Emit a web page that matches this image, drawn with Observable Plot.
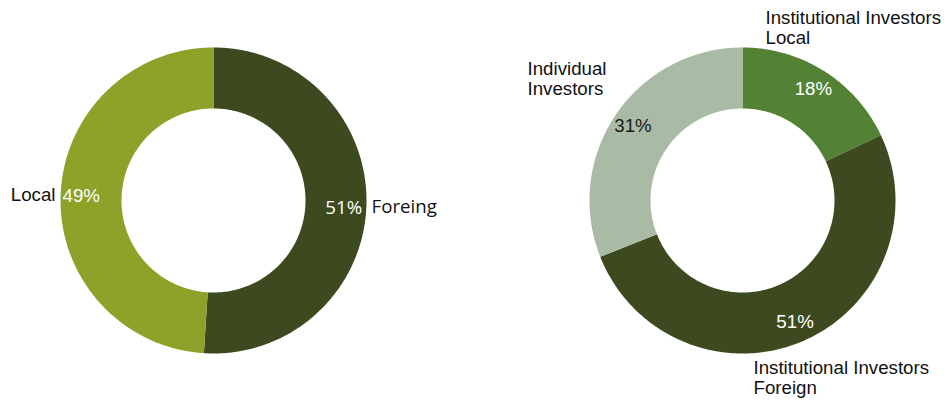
<!DOCTYPE html>
<html><head><meta charset="utf-8">
<script src="https://cdn.jsdelivr.net/npm/d3@7"></script>
<script src="https://cdn.jsdelivr.net/npm/@observablehq/plot@0.6"></script>
<style>body{margin:0;background:#fff;} #chart svg{display:block;}</style>
</head><body><div id="chart"></div>
<script>
// ---- data ----
const leftCategories = ["Foreing", "Local"];
const leftValues = [51, 49];
const leftColors = ["#3d4a1f", "#8ea128"];
const leftPctColors = ["#ffffff", "#ffffff"];

const rightCategories = ["Institutional Investors\nLocal", "Institutional Investors\nForeign", "Individual\nInvestors"];
const rightValues = [18, 51, 31];
const rightColors = ["#548235", "#3d4a1f", "#a9baa5"];
const rightPctColors = ["#ffffff", "#ffffff", "#1a1a1a"];

// ---- layout (pixels) ----
const W = 949, H = 403;
const PX = 153;               // outer radius in px = 1 data unit
const innerR = 92 / PX;
const labelR = 0.865;
const leftCenter = {x: 0, y: 0};
const rightCenter = {x: 529 / PX, y: 0};
const fs = 18.7;

// label offsets in screen px (dy positive = downward), relative to donut centre
const leftNameLayout = [{dx: 158, dy: 7, anchor: "start"}, {dx: -158, dy: -5, anchor: "end"}];
const leftPctAdjust = [{dx: -2, dy: 3}, {dx: 0, dy: 0}];
const rightNameLayout = [
  {dx: 23, dy: -173, anchor: "start"},
  {dx: 11, dy: 177, anchor: "start"},
  {dx: -215, dy: -122, anchor: "start"}
];

function buildDonut(cats, vals, colors, center, chartKey) {
  const arcs = d3.pie().sort(null).value(d => d)(vals);
  const pts = [];
  arcs.forEach((a, i) => {
    const n = Math.max(8, Math.ceil((a.endAngle - a.startAngle) * 60));
    for (let k = 0; k <= n; k++) {
      const t = a.startAngle + (a.endAngle - a.startAngle) * k / n;
      pts.push({key: chartKey + i, color: colors[i], x: center.x + Math.sin(t), y: center.y + Math.cos(t)});
    }
    for (let k = n; k >= 0; k--) {
      const t = a.startAngle + (a.endAngle - a.startAngle) * k / n;
      pts.push({key: chartKey + i, color: colors[i], x: center.x + innerR * Math.sin(t), y: center.y + innerR * Math.cos(t)});
    }
  });
  return {arcs, pts};
}

const L = buildDonut(leftCategories, leftValues, leftColors, leftCenter, "L");
const R = buildDonut(rightCategories, rightValues, rightColors, rightCenter, "R");

function pctLabels(arcs, vals, center, pctColors, adjust) {
  const total = d3.sum(vals);
  return arcs.map((a, i) => {
    const m = (a.startAngle + a.endAngle) / 2;
    const adj = adjust ? adjust[i] : {dx: 0, dy: 0};
    return {
      x: center.x + labelR * Math.sin(m) + adj.dx / PX,
      y: center.y + labelR * Math.cos(m) - adj.dy / PX,
      text: Math.round(vals[i] / total * 100) + "%",
      fill: pctColors[i]
    };
  });
}
const leftPct = pctLabels(L.arcs, leftValues, leftCenter, leftPctColors, leftPctAdjust);
const rightPct = pctLabels(R.arcs, rightValues, rightCenter, rightPctColors, null);

const leftNames = leftCategories.map((c, i) => ({
  x: leftCenter.x + leftNameLayout[i].dx / PX, y: leftCenter.y - leftNameLayout[i].dy / PX,
  text: c
}));
const rightNames = rightCategories.map((c, i) => ({
  x: rightCenter.x + rightNameLayout[i].dx / PX, y: rightCenter.y - rightNameLayout[i].dy / PX,
  text: c
}));

const arial = "Arial, 'Liberation Sans', sans-serif";
const openSans = "'Open Sans', sans-serif";

const chart = Plot.plot({
  width: W, height: H,
  margin: 0,
  x: {domain: [-213 / PX, (W - 213) / PX], axis: null},
  y: {domain: [-(H - 200) / PX, 200 / PX], axis: null},
  color: {type: "identity"},
  marks: [
    Plot.line(L.pts, {x: "x", y: "y", z: "key", fill: "color", stroke: "none"}),
    Plot.line(R.pts, {x: "x", y: "y", z: "key", fill: "color", stroke: "none"}),
    // left labels
    Plot.text([leftPct[0]], {x: "x", y: "y", text: "text", fill: "fill", fontSize: fs, fontFamily: openSans}),
    Plot.text([leftPct[1]], {x: "x", y: "y", text: "text", fill: "fill", fontSize: fs, fontFamily: arial}),
    Plot.text([leftNames[0]], {x: "x", y: "y", text: "text", fill: "#111", textAnchor: "start", fontSize: fs, fontFamily: openSans}),
    Plot.text([leftNames[1]], {x: "x", y: "y", text: "text", fill: "#111", textAnchor: "end", fontSize: fs, fontFamily: arial}),
    // right labels
    Plot.text(rightPct, {x: "x", y: "y", text: "text", fill: "fill", fontSize: fs, fontFamily: arial}),
    Plot.text(rightNames, {x: "x", y: "y", text: "text", fill: "#111", textAnchor: "start", fontSize: fs, lineHeight: 1.1, fontFamily: arial})
  ]
});
document.getElementById("chart").append(chart);
</script>
</body></html>
